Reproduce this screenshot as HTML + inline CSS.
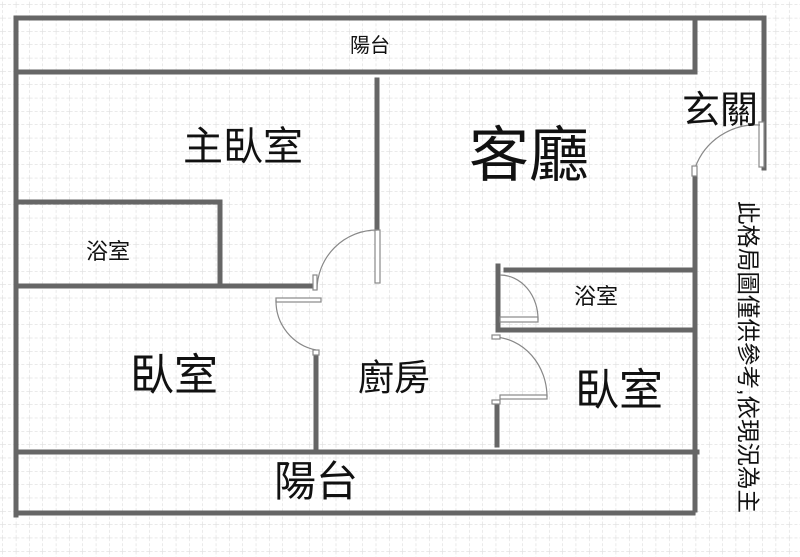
<!DOCTYPE html>
<html><head><meta charset="utf-8"><style>
html,body{margin:0;padding:0;background:#fff;}
svg{display:block;}
text{font-family:"Liberation Sans","Noto Sans CJK TC",sans-serif;fill:#111;}
</style></head><body>
<svg width="800" height="557" viewBox="0 0 800 557" xmlns="http://www.w3.org/2000/svg">
<defs>
<pattern id="g" width="13.33" height="13.33" patternUnits="userSpaceOnUse" x="3" y="5">
<path d="M13.33 0V13.33M0 13.33H13.33" stroke="#d4d4d4" stroke-width="1" stroke-dasharray="3,2" fill="none"/>
</pattern>
</defs>
<rect width="800" height="557" fill="#fff"/>
<rect width="800" height="557" fill="url(#g)"/>
<g stroke="#666" stroke-width="5" fill="none" stroke-linecap="square">
<path d="M16 18H764V168"/>
<path d="M16 18V515"/>
<path d="M16 72H695V18"/>
<path d="M377 80V230"/>
<path d="M16 202H220V285"/>
<path d="M16 286H312"/>
<path d="M316 355V450"/>
<path d="M16 452H697"/>
<path d="M16 513H693"/>
<path d="M695 168V510"/>
<path d="M506 270H695"/>
<path d="M498 266V330H695"/>
<path d="M497 405V445"/>
</g>
<g stroke="#888" stroke-width="1.2" fill="#fff">
<rect x="375" y="230" width="5" height="53"/>
<path d="M377 230A60 60 0 0 0 317 290" fill="none"/>
<rect x="313" y="275" width="4" height="15"/>
<rect x="276" y="298" width="45" height="4"/>
<path d="M276 300A50 50 0 0 0 316 350" fill="none"/>
<rect x="313" y="350" width="6" height="5"/>
<rect x="759" y="122" width="5" height="45"/>
<path d="M760 125A65 65 0 0 0 695 168" fill="none"/>
<rect x="692" y="166" width="5" height="10"/>
<rect x="500" y="317" width="38" height="5"/>
<path d="M500 275A38 44 0 0 1 538 320" fill="none"/>
<rect x="500" y="395" width="47" height="4"/>
<path d="M494 337A55 60 0 0 1 547 397" fill="none"/>
<rect x="492" y="335" width="8" height="4"/>
<rect x="492" y="400" width="8" height="4"/>
</g>
<text x="370" y="52" font-size="20" text-anchor="middle">陽台</text>
<text x="243" y="160" font-size="40" text-anchor="middle">主臥室</text>
<text x="108" y="259" font-size="22" text-anchor="middle">浴室</text>
<text x="529" y="176" font-size="60" text-anchor="middle">客廳</text>
<text x="720" y="123" font-size="38" text-anchor="middle">玄關</text>
<text x="174" y="390" font-size="44" text-anchor="middle">臥室</text>
<text x="394" y="390" font-size="36" text-anchor="middle">廚房</text>
<text x="596" y="304" font-size="22" text-anchor="middle">浴室</text>
<text x="619" y="405" font-size="44" text-anchor="middle">臥室</text>
<text x="316" y="496" font-size="42" text-anchor="middle">陽台</text>
<text transform="translate(740,357) rotate(90)" font-size="23.5" text-anchor="middle">此格局圖僅供參考,依現況為主</text>
</svg>
</body></html>
